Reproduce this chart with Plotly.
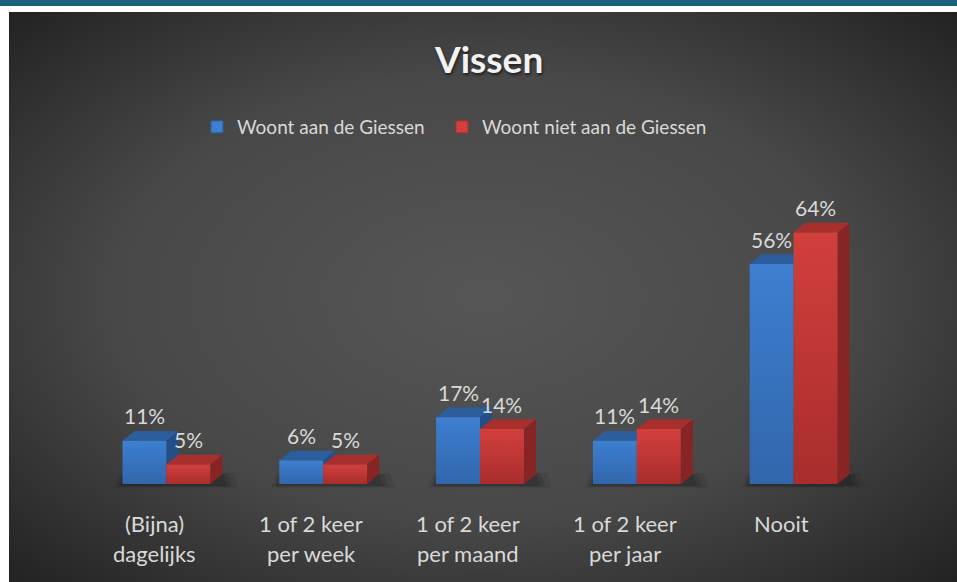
import base64
import plotly.graph_objects as go

# ---------------- data ----------------
categories = ["(Bijna)<br>dagelijks", "1 of 2 keer<br>per week", "1 of 2 keer<br>per maand",
              "1 of 2 keer<br>per jaar", "Nooit"]
series_names = ["Woont aan de Giessen", "Woont niet aan de Giessen"]
woont_aan = [11, 6, 17, 11, 56]
woont_niet = [5, 5, 14, 14, 64]
chart_title = "Vissen"

# ---------------- styling / layout constants ----------------
W, H = 957, 582
L, R, T, B = 88, 85, 209, 92
PW, PH = W - L - R, H - T - B
YMIN, YMAX = -1.5, 70
FONT = "Lato"
TXT = "#d9d9d9"

BW = 0.28      # bar width (category units)
DX = 0.077     # 3D depth, x (category units)
DY = 2.5       # 3D depth, y (value units)
offsets = [-0.14, 0.14]
front_cols = [("#3166ac", "#3d7fd0"), ("#a82d2c", "#d23f3d")]
top_cols = ["#2c5e9e", "#a7302d"]
side_cols = ["#244f86", "#862523"]
legend_px = [197, 442]


def px_x(px):
    return (px - L) / PW


def py_y(py):
    return (H - B - py) / PH


fig = go.Figure()
series_vals = [woont_aan, woont_niet]

# soft floor shadows
for i in range(len(categories)):
    for k, (ext, op) in enumerate([(0.10, 0.08), (0.06, 0.10), (0.03, 0.12)]):
        xa = i - BW - ext * 0.5
        xb = i + BW + DX + ext
        fig.add_trace(go.Scatter(
            x=[xa, xb, xb - 0.03, xa + 0.03, xa],
            y=[-0.3 - ext * 6, -0.3 - ext * 6, DY + ext * 3, DY + ext * 3, -0.3 - ext * 6],
            mode="lines", fill="toself", fillcolor=f"rgba(0,0,0,{op})", line=dict(width=0),
            hoverinfo="skip", showlegend=False))

for s, vals in enumerate(series_vals):
    for i, v in enumerate(vals):
        xc = i + offsets[s]
        x0, x1 = xc - BW / 2, xc + BW / 2
        # side face
        fig.add_trace(go.Scatter(
            x=[x1, x1, x1 + DX, x1 + DX, x1], y=[0, v, v + DY, DY, 0],
            mode="lines", fill="toself", fillcolor=side_cols[s], line=dict(width=0),
            hoverinfo="skip", showlegend=False))
        # top face
        fig.add_trace(go.Scatter(
            x=[x0, x1, x1 + DX, x0 + DX, x0], y=[v, v, v + DY, v + DY, v],
            mode="lines", fill="toself", fillcolor=top_cols[s], line=dict(width=0),
            hoverinfo="skip", showlegend=False))
        # front face
        fig.add_trace(go.Scatter(
            x=[x0, x1, x1, x0, x0], y=[0, 0, v, v, 0],
            mode="lines", fill="toself", line=dict(width=0),
            fillgradient=dict(type="vertical", start=0, stop=v,
                              colorscale=[[0, front_cols[s][0]], [1, front_cols[s][1]]]),
            hoverinfo="skip", showlegend=False))

# legend-only entries (each in its own legend box)
for s, name in enumerate(series_names):
    fig.add_trace(go.Scatter(
        x=[None], y=[None], name=name, mode="markers", legend="legend" if s == 0 else "legend2",
        marker=dict(symbol="square", size=12, color=front_cols[s][1],
                    line=dict(width=1, color=top_cols[s]))))

annotations = []
# data labels
for s, vals in enumerate(series_vals):
    for i, v in enumerate(vals):
        annotations.append(dict(
            x=i + offsets[s], y=v, xref="x", yref="y", text=f"{v}%", showarrow=False,
            yshift=25, yanchor="middle", font=dict(family=FONT, size=21, color=TXT)))
# category labels
for i, cat in enumerate(categories):
    for j, line in enumerate(cat.split("<br>")):
        annotations.append(dict(
            x=i - 0.075, y=py_y(523 + 30 * j), xref="x", yref="paper", text=line,
            showarrow=False, yanchor="middle", font=dict(family=FONT, size=22, color=TXT)))
# title
annotations.append(dict(
    x=px_x(488), y=py_y(59), xref="paper", yref="paper", text=f"<b>{chart_title}</b>",
    showarrow=False, yanchor="middle",
    font=dict(family=FONT, size=37, color="#f2f2f2", shadow="1px 2px 3px rgba(0,0,0,0.6)")))

svg = ('<svg xmlns="http://www.w3.org/2000/svg" width="948" height="570" viewBox="0 0 948 570" '
       'preserveAspectRatio="none"><defs><radialGradient id="g" cx="0.5" cy="0.5" r="0.71">'
       '<stop offset="0" stop-color="#565656"/><stop offset="0.55" stop-color="#484848"/>'
       '<stop offset="1" stop-color="#222222"/></radialGradient></defs>'
       '<rect width="948" height="570" fill="url(#g)"/></svg>')
bg_src = "data:image/svg+xml;base64," + base64.b64encode(svg.encode()).decode()

legend_style = dict(orientation="h", y=py_y(127), xanchor="left", yanchor="middle",
                    font=dict(family=FONT, size=19, color=TXT), bgcolor="rgba(0,0,0,0)")

fig.update_layout(
    width=W, height=H,
    margin=dict(l=L, r=R, t=T, b=B),
    paper_bgcolor="white", plot_bgcolor="rgba(0,0,0,0)",
    xaxis=dict(range=[-0.5, 4.5], visible=False, fixedrange=True),
    yaxis=dict(range=[YMIN, YMAX], visible=False, fixedrange=True),
    showlegend=True,
    legend=dict(x=px_x(legend_px[0]), **legend_style),
    legend2=dict(x=px_x(legend_px[1]), **legend_style),
    annotations=annotations,
    images=[dict(source=bg_src, xref="paper", yref="paper", x=px_x(9), y=py_y(12),
                 sizex=948 / PW, sizey=570 / PH, xanchor="left", yanchor="top",
                 sizing="stretch", layer="below")],
    shapes=[dict(type="rect", xref="paper", yref="paper", x0=px_x(0), x1=px_x(957),
                 y0=py_y(6), y1=py_y(0), fillcolor="#1a627c", line=dict(width=0))],
)

fig.write_html("out.html", config={"displayModeBar": False},
               post_script="document.body.style.margin='0';"
               "document.body.style.overflow='hidden';")
